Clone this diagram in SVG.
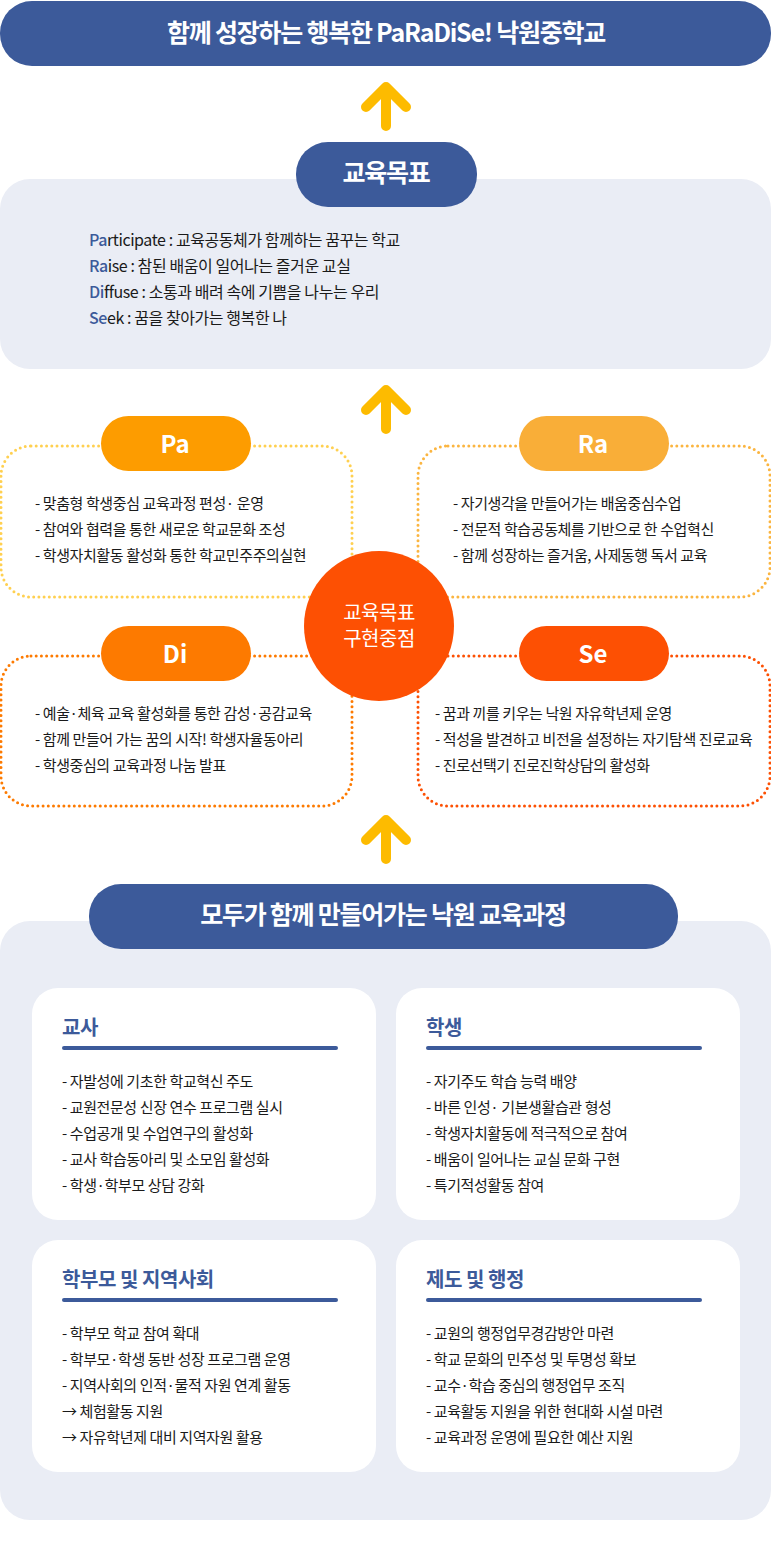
<svg xmlns="http://www.w3.org/2000/svg" width="771" height="1552" viewBox="0 0 771 1552">
<style>
text{font-family:"Noto Sans CJK KR","Noto Sans",sans-serif;fill:#111}
.ban{fill:#3c5a9a}
.panel{fill:#eaedf5}
.card{fill:#fff}
.bt{fill:#fff;font-weight:700;text-anchor:middle;font-size:25px;letter-spacing:-1.25px}
.t{font-size:15px;letter-spacing:-.4px;fill:#1a1a1a}
.g{font-size:16px;letter-spacing:-.42px;fill:#1a1a1a}
.h{font-size:20px;font-weight:700;fill:#3c5a9a;letter-spacing:-.45px}
.pill{font-size:24px;font-weight:700;fill:#fff;text-anchor:middle}
.b{fill:#3c5a9a;font-weight:500}
.core{font-size:20px;fill:#fff;text-anchor:middle;letter-spacing:-.5px}
.dot{fill:none;stroke-width:3;stroke-linecap:round;stroke-dasharray:0 5.2}
.arr{fill:none;stroke:#fdbb00;stroke-width:10;stroke-linecap:round;stroke-linejoin:round}
.rule{fill:#3c5a9a}
</style>
<g id="connectors">
<path class="arr" d="M366 107L386 87L406 107M386 87V126"/>
<path class="arr" d="M366 410L386 390L406 410M386 390V429"/>
<path class="arr" d="M366 840L386 820L406 840M386 820V859"/>
</g>
<g id="vision"><rect class="ban" x="0" y="1" width="771" height="65" rx="32"/>
<text class="bt" x="386" y="42">함께 성장하는 행복한 PaRaDiSe! 낙원중학교</text></g>
<g id="goals"><rect class="panel" x="0" y="179" width="771" height="190" rx="30"/>
<rect class="ban" x="296" y="142" width="181" height="65" rx="32"/>
<text class="bt" x="386" y="182">교육목표</text>
<text class="g" x="89" y="246"><tspan class="b">Pa</tspan>rticipate : 교육공동체가 함께하는 꿈꾸는 학교</text>
<text class="g" x="89" y="272"><tspan class="b">Ra</tspan>ise : 참된 배움이 일어나는 즐거운 교실</text>
<text class="g" x="89" y="298"><tspan class="b">Di</tspan>ffuse : 소통과 배려 속에 기쁨을 나누는 우리</text>
<text class="g" x="89" y="324"><tspan class="b">Se</tspan>ek : 꿈을 찾아가는 행복한 나</text></g>
<g id="pa"><rect class="dot" stroke="#ffd050" x="1" y="446" width="351" height="151" rx="30"/>
<rect x="101" y="416" width="150" height="55" rx="27.5" fill="#fd9c00"/>
<text class="pill" x="175" y="453">Pa</text>
<text class="t" x="35" y="509">- 맞춤형 학생중심 교육과정 편성· 운영</text>
<text class="t" x="35" y="535">- 참여와 협력을 통한 새로운 학교문화 조성</text>
<text class="t" x="35" y="561">- 학생자치활동 활성화 통한 학교민주주의실현</text></g>
<g id="ra"><rect class="dot" stroke="#fbb540" x="418" y="446" width="352" height="151" rx="30"/>
<rect x="519" y="416" width="150" height="55" rx="27.5" fill="#f9ae38"/>
<text class="pill" x="593" y="453">Ra</text>
<text class="t" x="453" y="509">- 자기생각을 만들어가는 배움중심수업</text>
<text class="t" x="453" y="535">- 전문적 학습공동체를 기반으로 한 수업혁신</text>
<text class="t" x="453" y="561">- 함께 성장하는 즐거움, 사제동행 독서 교육</text></g>
<g id="di"><rect class="dot" stroke="#fd7a00" x="1" y="656" width="351" height="150" rx="30"/>
<rect x="101" y="626" width="150" height="55" rx="27.5" fill="#fd7a00"/>
<text class="pill" x="175" y="663">Di</text>
<text class="t" x="35" y="719">- 예술·체육 교육 활성화를 통한 감성·공감교육</text>
<text class="t" x="35" y="745">- 함께 만들어 가는 꿈의 시작! 학생자율동아리</text>
<text class="t" x="35" y="771">- 학생중심의 교육과정 나눔 발표</text></g>
<g id="se"><rect class="dot" stroke="#fd5003" x="418" y="656" width="352" height="150" rx="30"/>
<rect x="519" y="626" width="150" height="55" rx="27.5" fill="#fd5003"/>
<text class="pill" x="593" y="663">Se</text>
<text class="t" x="435" y="719">- 꿈과 끼를 키우는 낙원 자유학년제 운영</text>
<text class="t" x="435" y="745">- 적성을 발견하고 비전을 설정하는 자기탐색 진로교육</text>
<text class="t" x="435" y="771">- 진로선택기 진로진학상담의 활성화</text></g>
<g id="core"><circle cx="379" cy="626" r="75" fill="#fd5003"/>
<text class="core" x="379" y="620">교육목표</text>
<text class="core" x="379" y="646">구현중점</text></g>
<g id="curriculum"><rect class="panel" x="0" y="921" width="771" height="599" rx="30"/>
<rect class="ban" x="89" y="884" width="589" height="65" rx="32"/>
<text class="bt" x="383" y="924">모두가 함께 만들어가는 낙원 교육과정</text></g>
<g id="teacher"><rect class="card" x="32" y="988" width="344" height="232" rx="26"/>
<text class="h" x="62" y="1035">교사</text><rect class="rule" x="62" y="1046" width="276" height="4" rx="2"/>
<text class="t" x="62" y="1087">- 자발성에 기초한 학교혁신 주도</text>
<text class="t" x="62" y="1113">- 교원전문성 신장 연수 프로그램 실시</text>
<text class="t" x="62" y="1139">- 수업공개 및 수업연구의 활성화</text>
<text class="t" x="62" y="1165">- 교사 학습동아리 및 소모임 활성화</text>
<text class="t" x="62" y="1191">- 학생·학부모 상담 강화</text></g>
<g id="student"><rect class="card" x="396" y="988" width="344" height="232" rx="26"/>
<text class="h" x="426" y="1035">학생</text><rect class="rule" x="426" y="1046" width="276" height="4" rx="2"/>
<text class="t" x="426" y="1087">- 자기주도 학습 능력 배양</text>
<text class="t" x="426" y="1113">- 바른 인성· 기본생활습관 형성</text>
<text class="t" x="426" y="1139">- 학생자치활동에 적극적으로 참여</text>
<text class="t" x="426" y="1165">- 배움이 일어나는 교실 문화 구현</text>
<text class="t" x="426" y="1191">- 특기적성활동 참여</text></g>
<g id="parents"><rect class="card" x="32" y="1240" width="344" height="232" rx="26"/>
<text class="h" x="62" y="1287">학부모 및 지역사회</text><rect class="rule" x="62" y="1298" width="276" height="4" rx="2"/>
<text class="t" x="62" y="1339">- 학부모 학교 참여 확대</text>
<text class="t" x="62" y="1365">- 학부모·학생 동반 성장 프로그램 운영</text>
<text class="t" x="62" y="1391">- 지역사회의 인적·물적 자원 연계 활동</text>
<text class="t" x="62" y="1417">→ 체험활동 지원</text>
<text class="t" x="62" y="1443">→ 자유학년제 대비 지역자원 활용</text></g>
<g id="admin"><rect class="card" x="396" y="1240" width="344" height="232" rx="26"/>
<text class="h" x="426" y="1287">제도 및 행정</text><rect class="rule" x="426" y="1298" width="276" height="4" rx="2"/>
<text class="t" x="426" y="1339">- 교원의 행정업무경감방안 마련</text>
<text class="t" x="426" y="1365">- 학교 문화의 민주성 및 투명성 확보</text>
<text class="t" x="426" y="1391">- 교수·학습 중심의 행정업무 조직</text>
<text class="t" x="426" y="1417">- 교육활동 지원을 위한 현대화 시설 마련</text>
<text class="t" x="426" y="1443">- 교육과정 운영에 필요한 예산 지원</text></g>
</svg>
